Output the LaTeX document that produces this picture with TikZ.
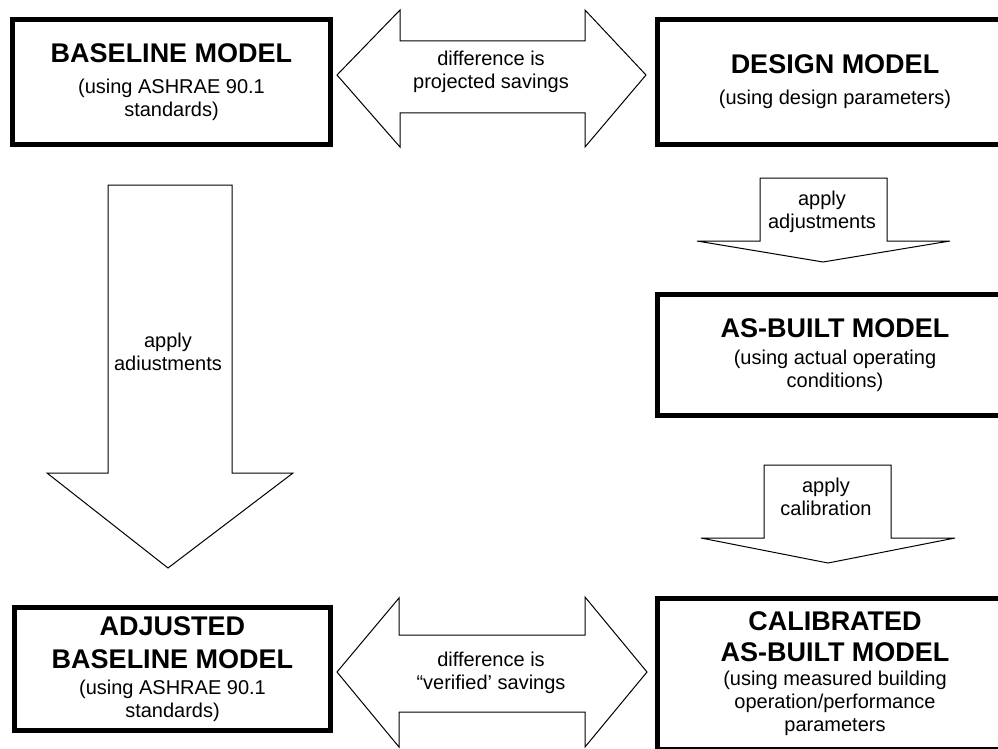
\documentclass[tikz,border=0pt]{standalone}
\usepackage{fontspec}
\setmainfont{Liberation Sans}
\newcommand{\titlefont}{\fontsize{27}{31}\selectfont\bfseries}
\newcommand{\subfont}{\fontsize{20}{23}\selectfont}

\begin{document}
\begin{tikzpicture}[x=1pt,y=1pt]
 	\tikzstyle{model}=[draw=black, line width=5pt, inner sep=0pt, align=center, font=\subfont]
 	\tikzstyle{blockarrow}=[draw=black, line width=1pt, fill=white, line join=miter]
 	\tikzstyle{arrowtext}=[inner sep=0pt, align=center, font=\subfont]
 	\useasboundingbox (0,0) rectangle (998,-749);
 	\clip (0,0) rectangle (998,-749);
 	% model boxes
 	\node [model, minimum width=318pt, minimum height=125pt] (base) at (171.5,-82) {{\titlefont BASELINE MODEL}\\[8pt](using ASHRAE 90.1\\standards)};
 	\node [model, minimum width=355pt, minimum height=125pt] (design) at (835,-82) {{\titlefont DESIGN MODEL}\\[8pt](using design parameters)};
 	\node [model, minimum width=355pt, minimum height=121pt] (asbuilt) at (835,-355) {{\titlefont AS-BUILT MODEL}\\[4pt](using actual operating\\conditions)};
 	\node [model, minimum width=316pt, minimum height=123pt] (adjbase) at (172.5,-669) {{\titlefont ADJUSTED}\\[10pt]{\titlefont BASELINE MODEL}\\[3pt](using ASHRAE 90.1\\standards)};
 	\node [model, minimum width=355pt, minimum height=151pt] (calib) at (835,-674) {{\titlefont CALIBRATED}\\[8pt]{\titlefont AS-BUILT MODEL}\\[1pt](using measured building\\operation/performance\\parameters};
 	% block arrows
 	\draw [blockarrow] (337,-75) -- (400,-10) -- (400,-41) -- (585,-41) -- (585,-10) -- (646,-75) -- (585,-147) -- (585,-113) -- (400,-113) -- (400,-147) -- cycle;
 	\node [arrowtext] (projsav) at (491,-72) {difference is\\projected savings};
 	\draw [blockarrow] (108,-185) -- (232,-185) -- (232,-473) -- (293,-473) -- (168,-568) -- (47,-473) -- (108,-473) -- cycle;
 	\node [arrowtext] (adjleft) at (168,-352) {apply\\adiustments};
 	\draw [blockarrow] (760,-178) -- (887,-178) -- (887,-241) -- (950,-241) -- (823,-262) -- (697,-241) -- (760,-241) -- cycle;
 	\node [arrowtext] (adjright) at (822,-212) {apply\\adjustments};
 	\draw [blockarrow] (764,-465) -- (891,-465) -- (891,-538) -- (955,-538) -- (828,-563) -- (701,-538) -- (764,-538) -- cycle;
 	\node [arrowtext] (calibrate) at (826,-497) {apply\\calibration};
 	\draw [blockarrow] (337,-672) -- (399,-598) -- (399,-635) -- (585,-635) -- (585,-597) -- (647,-672) -- (585,-747) -- (585,-712) -- (399,-712) -- (399,-747) -- cycle;
 	\node [arrowtext] (versav) at (491,-673) {difference is\\“verified’ savings};
\end{tikzpicture}
\end{document}
